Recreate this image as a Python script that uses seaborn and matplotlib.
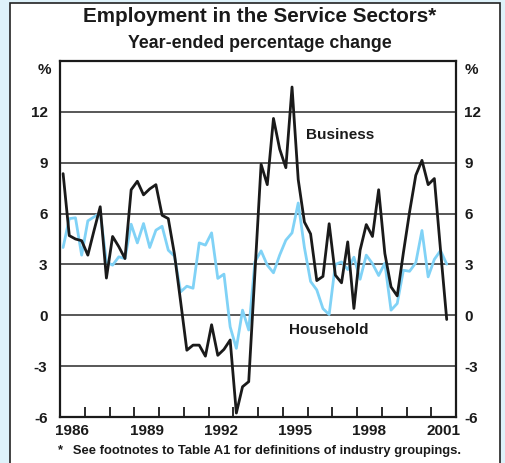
import matplotlib
matplotlib.use("Agg")
import matplotlib.pyplot as plt
import seaborn as sns
import numpy as np
import pandas as pd
from matplotlib.patches import Rectangle

# ---- data (quarterly, 1986 Q1 .. 2001 Q3) ----
start_year = 1986
business = [8.35, 4.7, 4.5, 4.4, 3.55, 5.0, 6.4, 2.2, 4.65, 4.05,
            3.35, 7.4, 7.9, 7.1, 7.45, 7.7, 5.9, 5.7, 3.6, 0.8,
            -2.05, -1.75, -1.75, -2.4, -0.55, -2.35, -2.0, -1.45, -5.75, -4.2,
            -3.9, 2.5, 8.9, 7.7, 11.6, 9.8, 8.7, 13.45, 8.0, 5.5,
            4.8, 2.05, 2.3, 5.4, 2.37, 1.92, 4.33, 0.41, 3.84, 5.35,
            4.65, 7.4, 3.65, 1.68, 1.15, 3.7, 6.1, 8.25, 9.13, 7.7,
            8.06, 3.84, -0.24]
household = [4.0, 5.7, 5.75, 3.55, 5.57, 5.8, 6.04, 3.15, 2.96, 3.45,
             3.35, 5.37, 4.27, 5.41, 4.0, 5.02, 5.25, 3.84, 3.49, 1.39,
             1.72, 1.6, 4.27, 4.14, 4.86, 2.18, 2.43, -0.67, -1.94, 0.31,
             -0.86, 3.15, 3.8, 2.96, 2.51, 3.55, 4.43, 4.86, 6.62, 4.0,
             2.0, 1.5, 0.4, 0.05, 3.0, 3.15, 2.7, 3.43, 2.13, 3.55,
             3.05, 2.35, 3.08, 0.31, 0.7, 2.66, 2.6, 3.1, 5.0, 2.27,
             3.3, 3.82, 3.02]
year_labels = ["1986", "1989", "1992", "1995", "1998", "2001"]
y_ticks = [-6, -3, 0, 3, 6, 9, 12]

n = len(business)
dates = [start_year + 0.125 + 0.25 * i for i in range(n)]
df = pd.DataFrame({"date": dates, "Business": business, "Household": household})

sns.set_theme(style="white")
plt.rcParams['font.family'] = ['Liberation Sans', 'DejaVu Sans']

W, H = 505, 463
fig = plt.figure(figsize=(W / 100, H / 100), dpi=100, facecolor="#def2fa")
# white panel with border
fig.patches.append(Rectangle((10 / W, -0.01), 490 / W, (H - 3) / H + 0.01,
                             transform=fig.transFigure, facecolor="white",
                             edgecolor="#222222", linewidth=1.2, zorder=-10))

ax = fig.add_axes([60 / W, 1 - 417.3 / H, (456 - 60) / W, (417.3 - 60.7) / H])
ax.set_facecolor("white")

sns.lineplot(data=df, x="date", y="Household", ax=ax, color="#80d2f6",
             linewidth=2.0, zorder=3)
sns.lineplot(data=df, x="date", y="Business", ax=ax, color="#1a1a1a",
             linewidth=2.0, zorder=4)

ax.set_xlim(1986, 2002)
ax.set_ylim(-6, 15)
for yv in y_ticks[1:]:
    ax.axhline(yv, color="#2a2a2a", linewidth=1.1, zorder=1)

ax.set_xlabel("")
ax.set_ylabel("")
for s in ax.spines.values():
    s.set_color("#1a1a1a")
    s.set_linewidth(1.6)

# major ticks at year boundaries (marks only), minor at mid-year (labels)
ax.set_xticks(list(range(1987, 2002)))
ax.set_xticklabels([])
ax.tick_params(axis="x", which="major", direction="in", length=7, width=1.3,
               color="#1a1a1a", bottom=True)
ax.set_xticks([int(y) + 0.5 for y in year_labels], minor=True)
ax.set_xticklabels(year_labels, minor=True, fontsize=11, fontweight="bold",
                   color="#1a1a1a")
ax.tick_params(axis="x", which="minor", length=0, pad=5)

ax.set_yticks(y_ticks)
ax.set_yticklabels([str(v) for v in y_ticks], fontsize=11, fontweight="bold",
                   color="#1a1a1a")
ax.tick_params(axis="y", which="both", length=0, pad=9, left=True, right=False,
               labelleft=True, labelright=False)
ax2 = ax.twinx()
ax2.set_ylim(ax.get_ylim())
ax2.set_yticks(y_ticks)
ax2.set_yticklabels([str(v) for v in y_ticks], fontsize=11, fontweight="bold",
                    color="#1a1a1a")
ax2.tick_params(axis="y", length=0, pad=6)
for s in ax2.spines.values():
    s.set_visible(False)

ax.text(1997.3, 10.6, "Business", ha="center", va="center", fontsize=11,
        fontweight="bold", color="#1a1a1a")
ax.text(1996.85, -0.85, "Household", ha="center", va="center", fontsize=11,
        fontweight="bold", color="#1a1a1a")

fig.text(44 / W, 1 - 70 / H, "%", ha="center", va="center", fontsize=11,
         fontweight="bold", color="#1a1a1a")
fig.text(471 / W, 1 - 70 / H, "%", ha="center", va="center", fontsize=11,
         fontweight="bold", color="#1a1a1a")

fig.text(260 / W, 1 - 17 / H, "Employment in the Service Sectors*", ha="center",
         va="center", fontsize=14.9, fontweight="bold", color="#1a1a1a")
fig.text(260 / W, 1 - 44 / H, "Year-ended percentage change", ha="center",
         va="center", fontsize=12.8, fontweight="bold", color="#1a1a1a")
fig.text(57 / W, 1 - 451 / H,
         "*   See footnotes to Table A1 for definitions of industry groupings.",
         ha="left", va="center", fontsize=9.35, fontweight="bold", color="#1a1a1a")

fig.savefig("out.png", dpi=100, facecolor=fig.get_facecolor())
